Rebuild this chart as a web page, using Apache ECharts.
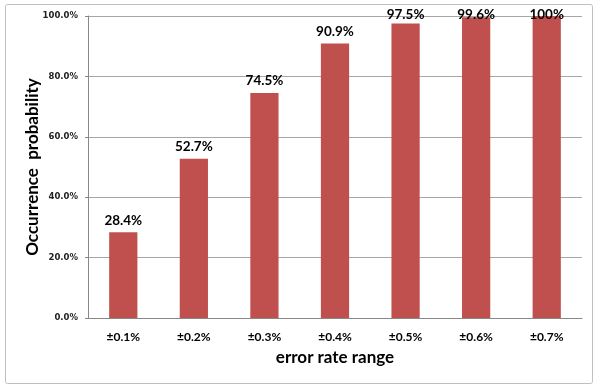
<!DOCTYPE html>
<html>
<head>
<meta charset="utf-8">
<script src="https://cdn.jsdelivr.net/npm/echarts@6/dist/echarts.min.js"></script>
<style>
html,body{margin:0;padding:0;background:#fff;}
#c{width:600px;height:392px;}
</style>
</head>
<body>
<div id="c"></div>
<script>
var categories = ['±0.1%', '±0.2%', '±0.3%', '±0.4%', '±0.5%', '±0.6%', '±0.7%'];
var values = [28.4, 52.7, 74.5, 90.9, 97.5, 99.6, 100];
var valueLabels = ['28.4%', '52.7%', '74.5%', '90.9%', '97.5%', '99.6%', '100%'];
var yTicks = [0, 20, 40, 60, 80, 100];

var chart = echarts.init(document.getElementById('c'), null, {renderer: 'canvas'});
chart.setOption({
  animation: false,
  backgroundColor: '#ffffff',
  graphic: [{
    type: 'rect',
    shape: {x: 5.5, y: 4.5, width: 587, height: 379, r: 2},
    style: {fill: 'none', stroke: '#bfbfbf', lineWidth: 1},
    silent: true
  }],
  grid: {left: 88, right: 18, top: 16, bottom: 74, containLabel: false},
  xAxis: {
    type: 'category',
    data: categories,
    name: 'error rate range',
    nameLocation: 'middle',
    nameGap: 31,
    nameTextStyle: {fontFamily: 'Lato', fontWeight: 'bold', fontSize: 17, color: '#000'},
    axisLine: {lineStyle: {color: '#888888', width: 1}},
    axisTick: {show: false},
    axisLabel: {fontFamily: 'Lato', fontWeight: 'bold', fontSize: 12, color: '#000', margin: 13}
  },
  yAxis: {
    type: 'value',
    min: 0,
    max: 100,
    interval: 20,
    name: 'Occurrence  probability',
    nameLocation: 'middle',
    nameGap: 47,
    nameMoveOverlap: false,
    nameTextStyle: {fontFamily: 'Lato', fontWeight: 'bold', fontSize: 17, color: '#000'},
    axisLine: {show: true, lineStyle: {color: '#888888', width: 1}},
    axisTick: {show: true, length: 3, lineStyle: {color: '#888888'}},
    splitLine: {lineStyle: {color: '#a6a6a6', width: 1}},
    axisLabel: {
      fontFamily: 'DejaVu Sans', fontWeight: 'bold', fontSize: 8.5, color: '#222', margin: 10,
      formatter: function (v) { return yTicks.indexOf(v) >= 0 ? v.toFixed(1) + '%' : ''; }
    }
  },
  series: [{
    type: 'bar',
    data: values,
    barWidth: '40%',
    itemStyle: {color: '#c0504d'},
    label: {
      show: true,
      position: 'top',
      distance: 5,
      fontFamily: 'Lato', fontWeight: 'bold', fontSize: 13.5, color: '#000',
      formatter: function (p) { return valueLabels[p.dataIndex]; }
    },
    labelLayout: function (params) {
      var r = params.labelRect;
      var cy = r.y + r.height / 2;
      return {dy: Math.max(0, 15 - cy)};
    }
  }]
});
</script>
</body>
</html>
